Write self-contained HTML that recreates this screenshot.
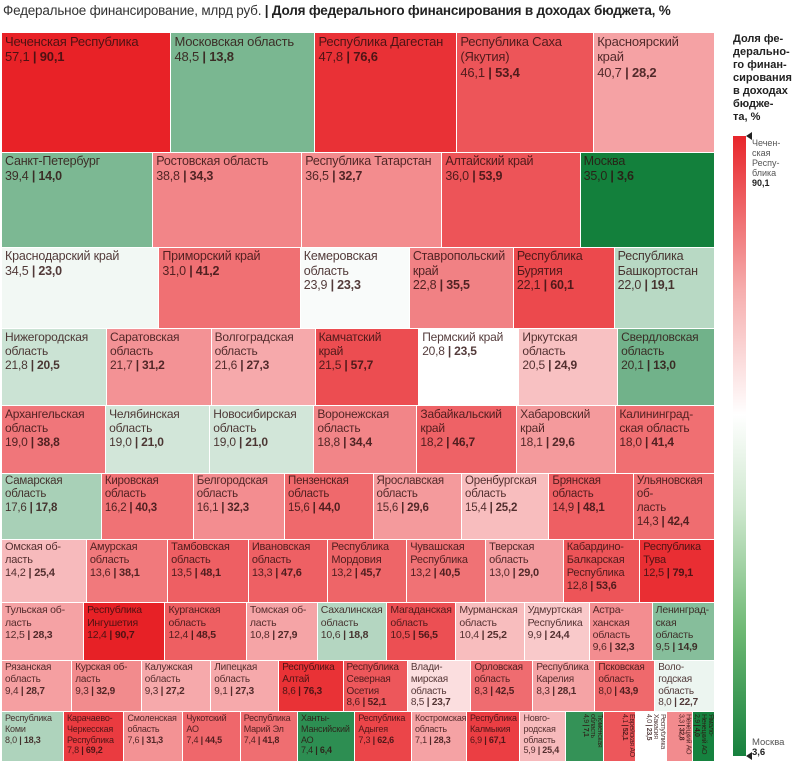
<!DOCTYPE html>
<html><head><meta charset="utf-8">
<style>
body{margin:0;width:796px;height:768px;background:#fff;position:relative;overflow:hidden;font-family:"Liberation Sans Narrow","Liberation Sans","DejaVu Sans",sans-serif;}
#hdr{position:absolute;left:3px;top:3px;font-size:13.5px;color:#333;white-space:nowrap;letter-spacing:-0.2px}
#hdr b{color:#222}
#tm{position:absolute;left:2px;top:33px;width:713px;height:729px}
.c{position:absolute;box-sizing:border-box;overflow:hidden;padding:1px 3px;color:rgba(45,15,15,0.82);white-space:pre-line;line-height:1.18;letter-spacing:-0.2px}
.c b{font-weight:bold}
.v{writing-mode:vertical-rl;padding:2px 0px;line-height:1.0;letter-spacing:-0.3px}
#lt{position:absolute;left:733px;top:33px;font-size:11px;font-weight:bold;color:#222;line-height:13px;width:62px}
#lbar{position:absolute;left:733px;top:136px;width:13px;height:620px;background:linear-gradient(#e8262b,#f6aeae 25%,#fff 45%,#cfe8cf 60%,#6db873 80%,#16803d)}
.lab{position:absolute;left:752px;font-size:9px;color:#555;line-height:10px}
.tri{position:absolute;left:746px;width:0;height:0;border-top:4px solid transparent;border-bottom:4px solid transparent;border-right:6px solid #222}
</style></head><body>
<div id="hdr">Федеральное финансирование, млрд руб. <b>| Доля федерального финансирования в доходах бюджета, %</b></div>
<div id="tm"></div>
<div id="lt">Доля фе-<br>дерально-<br>го финан-<br>сирования<br>в доходах<br>бюдже-<br>та, %</div>
<div id="lbar"></div>
<div class="tri" style="top:132px"></div>
<div class="lab" style="top:138px">Чечен-<br>ская<br>Респу-<br>блика<br><b style="color:#222">90,1</b></div>
<div class="tri" style="top:752px"></div>
<div class="lab" style="top:738px;font-size:9.5px">Москва<br><b style="color:#222">3,6</b></div>
<script>
const names=["Чеченская Республика","Московская область","Республика Дагестан","Республика Саха\n(Якутия)","Красноярский\nкрай",
"Санкт-Петербург","Ростовская область","Республика Татарстан","Алтайский край","Москва",
"Краснодарский край","Приморский край","Кемеровская\nобласть","Ставропольский\nкрай","Республика\nБурятия","Республика\nБашкортостан",
"Нижегородская\nобласть","Саратовская\nобласть","Волгоградская\nобласть","Камчатский\nкрай","Пермский край","Иркутская\nобласть","Свердловская\nобласть",
"Архангельская\nобласть","Челябинская\nобласть","Новосибирская\nобласть","Воронежская\nобласть","Забайкальский\nкрай","Хабаровский\nкрай","Калининград-\nская область",
"Самарская\nобласть","Кировская\nобласть","Белгородская\nобласть","Пензенская\nобласть","Ярославская\nобласть","Оренбургская\nобласть","Брянская\nобласть","Ульяновская об-\nласть",
"Омская об-\nласть","Амурская\nобласть","Тамбовская\nобласть","Ивановская\nобласть","Республика\nМордовия","Чувашская\nРеспублика","Тверская\nобласть","Кабардино-\nБалкарская\nРеспублика","Республика\nТува",
"Тульская об-\nласть","Республика\nИнгушетия","Курганская\nобласть","Томская об-\nласть","Сахалинская\nобласть","Магаданская\nобласть","Мурманская\nобласть","Удмуртская\nРеспублика","Астра-\nханская\nобласть","Ленинград-\nская область",
"Рязанская\nобласть","Курская об-\nласть","Калужская\nобласть","Липецкая\nобласть","Республика\nАлтай","Республика\nСеверная\nОсетия","Влади-\nмирская\nобласть","Орловская\nобласть","Республика\nКарелия","Псковская\nобласть","Воло-\nгодская\nобласть",
"Республика\nКоми","Карачаево-\nЧеркесская\nРеспублика","Смоленская\nобласть","Чукотский\nАО","Республика\nМарий Эл","Ханты-\nМансийский\nАО","Республика\nАдыгея","Костромская\nобласть","Республика\nКалмыкия","Новго-\nродская\nобласть","Тюменская\nобласть","Еврейская АО","Республика\nХакасия","Ненецкий АО","Ямало-\nНенецкий АО"];
const fed=[57.1,48.5,47.8,46.1,40.7, 39.4,38.8,36.5,36.0,35.0, 34.5,31.0,23.9,22.8,22.1,22.0,
21.8,21.7,21.6,21.5,20.8,20.5,20.1, 19.0,19.0,19.0,18.8,18.2,18.1,18.0,
17.6,16.2,16.1,15.6,15.6,15.4,14.9,14.3, 14.2,13.6,13.5,13.3,13.2,13.2,13.0,12.8,12.5,
12.5,12.4,12.4,10.8,10.6,10.5,10.4,9.9,9.6,9.5, 9.4,9.3,9.3,9.1,8.6,8.6,8.5,8.3,8.3,8.0,8.0,
8.0,7.8,7.6,7.4,7.4,7.4,7.3,7.1,6.9,5.9,4.9,4.1,4.0,3.3,2.9];
const share=[90.1,13.8,76.6,53.4,28.2, 14.0,34.3,32.7,53.9,3.6, 23.0,41.2,23.3,35.5,60.1,19.1,
20.5,31.2,27.3,57.7,23.5,24.9,13.0, 38.8,21.0,21.0,34.4,46.7,29.6,41.4,
17.8,40.3,32.3,44.0,29.6,25.2,48.1,42.4, 25.4,38.1,48.1,47.6,45.7,40.5,29.0,53.6,79.1,
28.3,90.7,48.5,27.9,18.8,56.5,25.2,24.4,32.3,14.9, 28.7,32.9,27.2,27.3,76.3,52.1,23.7,42.5,28.1,43.9,22.7,
18.3,69.2,31.3,44.5,41.8,6.4,62.6,28.3,67.1,25.4,7.1,52.1,23.5,32.8,4.0];
const rowCounts=[5,5,6,7,7,8,9,10,11,15];
const fontSizes=[13,12.5,12.5,12,12,11.5,11,10.5,10,9];

const W=713,H=729,MID=23.5,MAXV=90.1,MINV=3.6;
function color(v){
  let r,g,b,t;
  if(v>=MID){t=Math.pow((v-MID)/(MAXV-MID),0.33);r=255+(232-255)*t;g=255+(34-255)*t;b=255+(39-255)*t;}
  else{t=Math.pow((MID-v)/(MID-MINV),0.8);r=255+(19-255)*t;g=255+(128-255)*t;b=255+(60-255)*t;}
  return `rgb(${r|0},${g|0},${b|0})`;
}
function fmt(x){return x.toFixed(1).replace('.',',');}
const tm=document.getElementById('tm');
const sums=[];let s0=0;
rowCounts.forEach(n=>{sums.push(fed.slice(s0,s0+n).reduce((a,b)=>a+b,0));s0+=n;});
const weights=sums.map(s=>Math.pow(s,0.92));
const wTot=weights.reduce((a,b)=>a+b,0);
let idx=0,y=0;
rowCounts.forEach((n,ri)=>{
  const rs=sums[ri];
  const rh=H*weights[ri]/wTot;
  let x=0;
  for(let k=0;k<n;k++){
    const i=idx+k;
    const w=W*fed[i]/rs;
    const d=document.createElement('div');
    d.className='c'+(fed[i]<5?' v':'');
    
    
    d.style.left=x+'px';d.style.top=y+'px';
    d.style.width=(w-1)+'px';d.style.height=(rh-1)+'px';
    d.style.background=color(share[i]);
    d.style.fontSize=(fed[i]<5?7:fontSizes[ri])+'px';
    d.textContent=names[i]+'\n'+fmt(fed[i])+' ';
    const bb=document.createElement('b');
    bb.textContent='| '+fmt(share[i]);
    d.appendChild(bb);
    tm.appendChild(d);
    x+=w;
  }
  y+=rh;idx+=n;
});
</script>
</body></html>
